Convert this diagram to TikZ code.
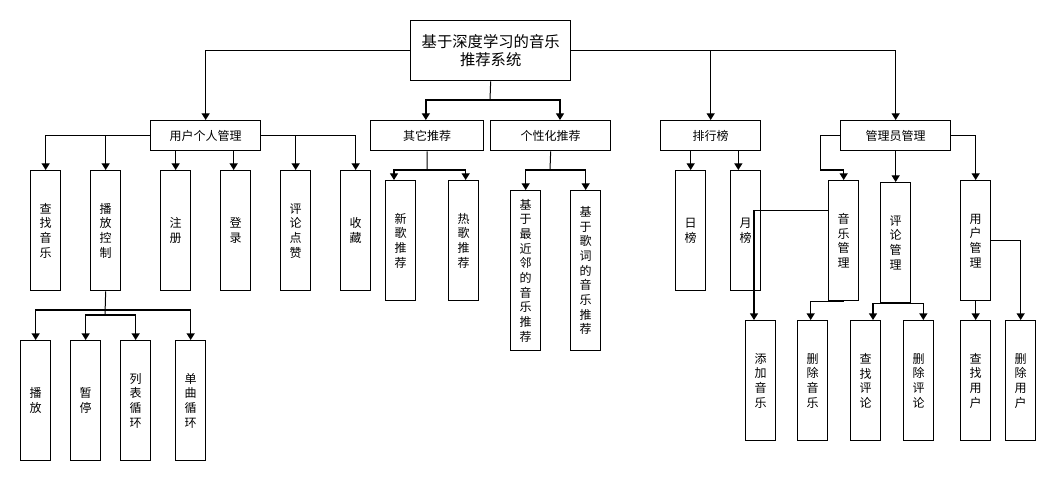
\documentclass[tikz,border=0pt]{standalone}
\usepackage{fontspec}
\setmainfont{Noto Sans CJK SC}
\usetikzlibrary{arrows.meta}
\tikzset{every picture/.style={line width=0.75pt}}
\begin{document}
\begin{tikzpicture}[x=0.75pt,y=0.75pt,yscale=-1,xscale=1,
  box/.style={draw,line width=1pt,anchor=north west,inner sep=0pt,font=\fontsize{9}{11}\selectfont,align=center},
  arr/.style={-{Triangle[length=5pt,width=6pt]},line width=1pt}]
\useasboundingbox (0,0) rectangle (1056,481);

% Root
\node[box,minimum width=120pt,minimum height=45pt,font=\fontsize{11.5}{14}\selectfont] (root) at (410,20) {基于深度学习的音乐\\推荐系统};
% Level 2
\node[box,minimum width=82.5pt,minimum height=22.5pt] (user) at (150,120) {用户个人管理};
\node[box,minimum width=84.75pt,minimum height=22.5pt] (other) at (370,120) {其它推荐};
\node[box,minimum width=90pt,minimum height=22.5pt] (pers) at (490,120) {个性化推荐};
\node[box,minimum width=75pt,minimum height=22.5pt] (rank) at (660,120) {排行榜};
\node[box,minimum width=82.5pt,minimum height=22.5pt] (admin) at (840,120) {管理员管理};

% Vertical boxes
\foreach \name/\x/\y/\h/\txt in {
  find/30/170/120/查\\找\\音\\乐, play/90/170/120/播\\放\\控\\制,
  reg/160/170/120/注\\册, login/220/170/120/登\\录,
  like/280/170/120/评\\论\\点\\赞, fav/340/170/120/收\\藏,
  p1/20/340/120/播\\放, p2/70/340/120/暂\\停,
  p3/120/340/120/列\\表\\循\\环, p4/175/340/120/单\\曲\\循\\环,
  newsong/385/180/120/新\\歌\\推\\荐, hotsong/448/180/120/热\\歌\\推\\荐,
  knn/510/190/160/基\\于\\最\\近\\邻\\的\\音\\乐\\推\\荐, lyric/570/190/160/基\\于\\歌\\词\\的\\音\\乐\\推\\荐,
  day/675/170/120/日\\榜, month/730/170/120/月\\榜,
  music/828/180/120/音\\乐\\管\\理, cmt/880/182/120/评\\论\\管\\理, um/960/180/120/用\\户\\管\\理,
  addm/745/320/120/添\\加\\音\\乐, delm/797/320/120/删\\除\\音\\乐,
  findc/850/320/120/查\\找\\评\\论, delc/903/320/120/删\\除\\评\\论,
  findu/960/320/120/查\\找\\用\\户, delu/1005/320/120/删\\除\\用\\户}
  \node[box,minimum width=22.5pt,minimum height={\h*0.75pt}] (\name) at (\x,\y) {\txt};

% Root connectors
\draw[arr] (root.west) -| (user.north);
\draw[arr] (root.east) -| (admin.north);
\draw[arr] (root.east) -| (rank.north);
\coordinate (rb) at (490,100);
\draw (root.south) -- (rb);
\draw[arr] (rb) -| ([xshift=-1pt]other.north);
\draw[arr] (rb) -| ([xshift=7pt]pers.north);

% User connectors
\draw[arr] (user.west) -| (find.north);
\draw[arr] (user.west) -| (play.north);
\draw[arr] (reg.north |- user.south) -- (reg.north);
\draw[arr] ([xshift=-1.5pt]login.north |- user.south) -- ([xshift=-1.5pt]login.north);
\draw[arr] (user.east) -| (like.north);
\draw[arr] (user.east) -| (fav.north);
\coordinate (pb) at (105,310);
\coordinate (pc) at (105,315);
\draw (play.south) -- (pc);
\draw[arr] (pb) -| (p1.north);
\draw[arr] (pb) -| (p4.north);
\draw[arr] (pc) -| (p2.north);
\draw[arr] (pc) -| (p3.north);

% Recommendation connectors
\coordinate (ob) at (427,170);
\draw (other.south) -- (ob);
\draw[arr] (ob) -| ([xshift=-5pt]newsong.north);
\draw[arr] (ob) -| ([xshift=1.5pt]hotsong.north);
\coordinate (pbb) at (550,170);
\draw (pers.south) -- (pbb);
\draw[arr] (pbb) -| (knn.north);
\draw[arr] (pbb) -| (lyric.north);

% Rank connectors
\draw[arr] (day.north |- rank.south) -- (day.north);
\draw[arr] ([xshift=-5.5pt]month.north |- rank.south) -- ([xshift=-5.5pt]month.north);

% Admin connectors
\coordinate (al) at (820,170);
\draw (admin.west) -| (al);
\draw[arr] (al) -| (music.north);
\draw[arr] (cmt.north |- admin.south) -- (cmt.north);
\draw[arr] (admin.east) -| (um.north);
\draw[arr] ([yshift=-22.5pt]music.west) -| ([xshift=-5pt]addm.north);
\draw[arr] (music.south) -| ([xshift=-1.5pt]delm.north);
\draw[arr] (cmt.south) -| ([xshift=5.5pt]findc.north);
\draw[arr] (cmt.south) -| ([xshift=3.5pt]delc.north);
\draw[arr] (um.south) -- (findu.north);
\draw[arr] (um.east) -| (delu.north);
\end{tikzpicture}
\end{document}
